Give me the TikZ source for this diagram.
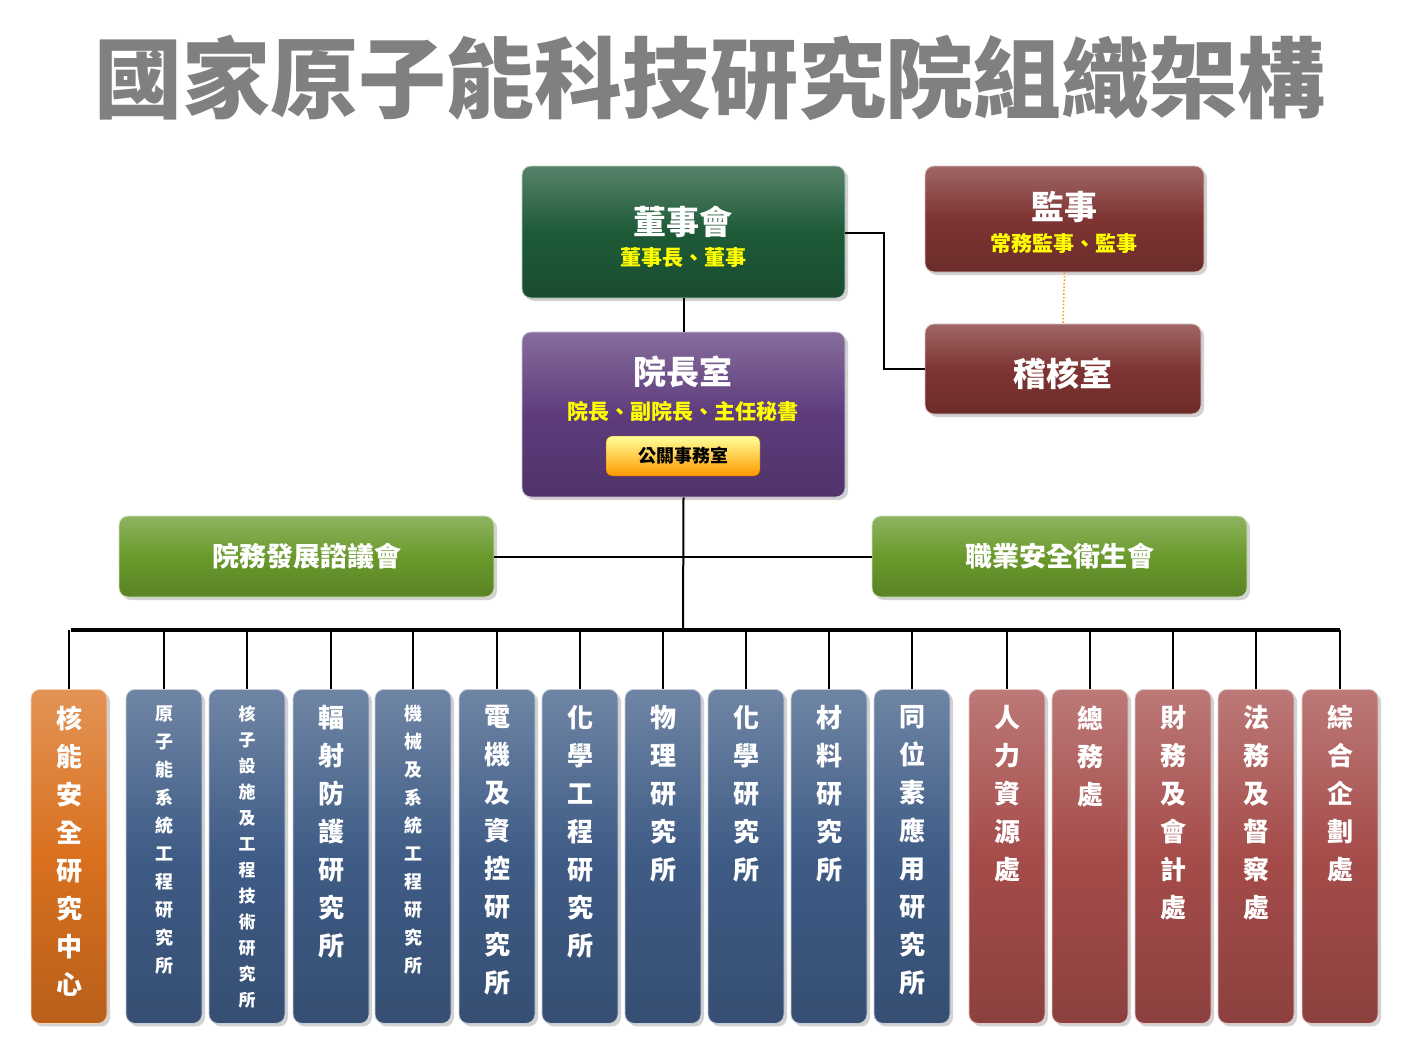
\documentclass[tikz,border=0pt]{standalone}
\usepackage{fontspec}
\setmainfont{Noto Sans CJK TC}
\usetikzlibrary{shadows}
\definecolor{dgreen}{HTML}{1E5A38}
\definecolor{dred}{HTML}{7E3432}
\definecolor{purp}{HTML}{5E3C7C}
\definecolor{lgreen}{HTML}{6A9A2C}
\definecolor{blu}{HTML}{3F5C86}
\definecolor{rd}{HTML}{A54C4A}
\definecolor{orng}{HTML}{D9701E}
\definecolor{yel}{HTML}{FFFF00}
\tikzset{
 bx/.style={rounded corners=9pt,draw=white!70!#1,line width=0.8pt,top color=#1!75!white,bottom color=#1!85!black,middle color=#1,drop shadow={opacity=0.35,shadow xshift=3pt,shadow yshift=-3pt}},
 ln/.style={line width=2pt,black},
 col/.style={bx=#1,minimum width=76pt,minimum height=334pt,anchor=north,inner sep=0pt},
 bigt/.style={text=white,font=\fontsize{26}{38}\selectfont\bfseries,align=center},
 smt/.style={text=white,font=\fontsize{18}{28}\selectfont\bfseries,align=center},
 tnt/.style={text=white,font=\fontsize{17}{26}\selectfont\bfseries,align=center},
 sub/.style={text=yel,font=\fontsize{21}{21}\selectfont\bfseries},
 hd/.style={text=white,font=\fontsize{33}{33}\selectfont\bfseries},
}
\begin{document}
\begin{tikzpicture}[x=1pt,y=-1pt]
\useasboundingbox[fill=white] (0,0) rectangle (1411,1057);
\node (title) [text=black!50,font=\fontsize{88}{88}\selectfont\bfseries] at (710,78) {國家原子能科技研究院組織架構};
% top boxes
\node (board) [bx=dgreen,minimum width=323pt,minimum height=132pt] at (683.5,232) {};
\node[hd] at (683,222) {董事會};
\node[sub] at (683,258) {董事長、董事};
\node (sup) [bx=dred,minimum width=279pt,minimum height=106pt] at (1064.5,219) {};
\node[hd] at (1064,207) {監事};
\node[sub] at (1064,244) {常務監事、監事};
\node (audit) [bx=dred,minimum width=276pt,minimum height=90pt] at (1063,369) {};
\node[hd] at (1063,374) {稽核室};
\node (pres) [bx=purp,minimum width=323pt,minimum height=165pt] at (683.5,414.5) {};
\node[hd] at (683,372) {院長室};
\node[sub] at (683,411) {院長、副院長、主任秘書};
\node (pr) [rounded corners=6pt,draw=orange!60!black,top color=yellow!40!white,bottom color=orange!80!yellow,minimum width=154pt,minimum height=40pt,font=\fontsize{18}{18}\selectfont\bfseries] at (683,456) {公關事務室};
\node (dev) [bx=lgreen,minimum width=375pt,minimum height=81pt,text=white,font=\fontsize{27}{27}\selectfont\bfseries] at (306.5,556.5) {院務發展諮議會};
\node (safe) [bx=lgreen,minimum width=375pt,minimum height=81pt,text=white,font=\fontsize{27}{27}\selectfont\bfseries] at (1059.5,556.5) {職業安全衛生會};
% connectors
\coordinate (j1) at (884,233);
\draw[ln] (board.south) -- (pres.north);
\draw[ln] (board.east |- j1) -- (j1) |- (audit.west);
\draw[dotted,line width=1.5pt,orange!80!yellow] (sup.south) -- (audit.north);
\coordinate (bus) at (683,630);
\draw[ln] (pres.south) -- (bus);
\draw[ln] (dev.east) -- (safe.west);
\coordinate (bl) at (71,630);
\coordinate (br) at (1340,630);
\draw[line width=3.5pt] (bl) -- (br);
% columns
\foreach \x/\c/\s/\t [count=\i] in {
 69/orng/bigt/{核\\能\\安\\全\\研\\究\\中\\心},
 164/blu/smt/{原\\子\\能\\系\\統\\工\\程\\研\\究\\所},
 247/blu/tnt/{核\\子\\設\\施\\及\\工\\程\\技\\術\\研\\究\\所},
 331/blu/bigt/{輻\\射\\防\\護\\研\\究\\所},
 413/blu/smt/{機\\械\\及\\系\\統\\工\\程\\研\\究\\所},
 497/blu/bigt/{電\\機\\及\\資\\控\\研\\究\\所},
 580/blu/bigt/{化\\學\\工\\程\\研\\究\\所},
 663/blu/bigt/{物\\理\\研\\究\\所},
 746/blu/bigt/{化\\學\\研\\究\\所},
 829/blu/bigt/{材\\料\\研\\究\\所},
 912/blu/bigt/{同\\位\\素\\應\\用\\研\\究\\所},
 1007/rd/bigt/{人\\力\\資\\源\\處},
 1090/rd/bigt/{總\\務\\處},
 1173/rd/bigt/{財\\務\\及\\會\\計\\處},
 1256/rd/bigt/{法\\務\\及\\督\\察\\處},
 1340/rd/bigt/{綜\\合\\企\\劃\\處}}{
 \node (c\i) [col=\c] at (\x,689) {};
 \node[\s,anchor=north] at (\x,702) {\t};
 \draw[ln] (\x,630) -- (c\i.north);
}
\end{tikzpicture}
\end{document}
